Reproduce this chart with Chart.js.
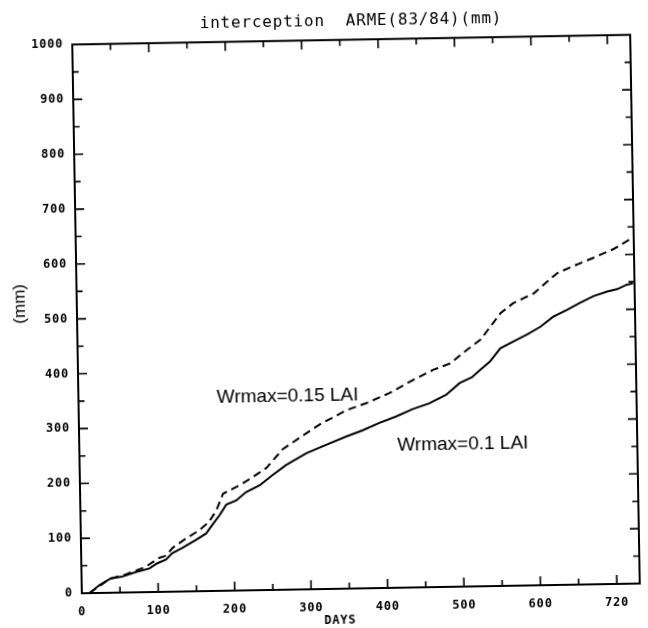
<!DOCTYPE html>
<html><head><meta charset="utf-8">
<script src="https://cdn.jsdelivr.net/npm/chart.js@4.4.1/dist/chart.umd.min.js"></script>
<style>
html,body{margin:0;padding:0;background:#fff;overflow:hidden;}
#wrap{position:absolute;left:0;top:0;width:648px;height:628px;transform:rotate(-1deg);transform-origin:324px 314px;}
canvas{display:block;}
</style></head><body>
<div id="wrap"><canvas id="c" width="648" height="628"></canvas></div>
<script>
const titleText = 'interception  ARME(83/84)(mm)';
const xAxisTitle = 'DAYS';
const yAxisTitle = '(mm)';
const seriesNames = ['Wrmax=0.1 LAI', 'Wrmax=0.15 LAI'];
const xTickValues = [0, 100, 200, 300, 400, 500, 600, 700];
const xTickLabels = ['0', '100', '200', '300', '400', '500', '600', '720'];
const yTickValues = [0, 100, 200, 300, 400, 500, 600, 700, 800, 900, 1000];
const yTickLabels = ['0', '100', '200', '300', '400', '500', '600', '700', '800', '900', '1000'];

// Wrmax = 0.1 LAI (solid)
const daysLow = [10, 23, 38, 53, 71, 89, 99, 111, 119, 132, 150, 164, 172, 182, 191, 204, 217, 235, 252, 270, 297, 327, 349, 371, 393, 415, 437, 459, 481, 499, 515, 526, 539, 553, 570, 588, 606, 623, 641, 658, 676, 694, 707, 720, 728];
const interceptionLow = [0, 14, 26, 29, 37, 43, 52, 59, 70, 79, 93, 105, 120, 138, 157, 164, 179, 191, 209, 227, 248, 265, 277, 288, 301, 312, 325, 335, 350, 371, 381, 394, 409, 433, 445, 457, 471, 489, 501, 513, 525, 533, 537, 545, 547];

// Wrmax = 0.15 LAI (dashed)
const daysHigh = [10, 36, 58, 84, 102, 111, 120, 137, 155, 168, 178, 187, 209, 226, 244, 266, 288, 315, 350, 376, 407, 438, 465, 487, 509, 527, 544, 554, 571, 598, 615, 629, 651, 677, 703, 728];
const interceptionHigh = [0, 25, 33, 46, 62, 66, 80, 96, 111, 126, 147, 177, 192, 206, 222, 256, 276, 300, 325, 337, 355, 378, 396, 407, 431, 449, 479, 497, 515, 532, 552, 568, 581, 595, 610, 630];

const toPoints = (xs, ys) => xs.map((v, i) => ({x: v, y: ys[i]}));

const tickFont = {family: '"DejaVu Sans Mono", monospace', size: 12, weight: 'bold'};

const spacingPlugin = {
  id: 'spacing',
  beforeLayout(chart) { chart.ctx.letterSpacing = '0.8px'; },
  beforeDraw(chart) { chart.ctx.letterSpacing = '0.8px'; }
};

const framePlugin = {
  id: 'frame',
  afterDatasetsDraw(chart) {
    const {ctx, chartArea: a, scales: {x, y}} = chart;
    ctx.save();
    ctx.strokeStyle = '#000';
    ctx.lineWidth = 2;
    ctx.strokeRect(a.left, a.top, a.right - a.left, a.bottom - a.top);
    ctx.lineWidth = 1.6;
    ctx.beginPath();
    x.ticks.forEach(t => {
      if (t.value % 50 !== 0 || t.value <= x.min || t.value >= x.max) return;
      const len = t.value % 100 === 0 ? 9 : 6;
      const p = x.getPixelForValue(t.value);
      ctx.moveTo(p, a.bottom); ctx.lineTo(p, a.bottom - len);
      ctx.moveTo(p, a.top); ctx.lineTo(p, a.top + len);
    });
    y.ticks.forEach(t => {
      if (t.value % 50 !== 0 || t.value <= y.min || t.value >= y.max) return;
      const len = t.value % 100 === 0 ? 9 : 6;
      const p = y.getPixelForValue(t.value);
      ctx.moveTo(a.left, p); ctx.lineTo(a.left + len, p);
      ctx.moveTo(a.right, p); ctx.lineTo(a.right - len, p);
    });
    ctx.stroke();

    // series annotations
    ctx.fillStyle = '#000';
    ctx.letterSpacing = '0px';
    ctx.font = '19px "Liberation Sans", Arial, sans-serif';
    ctx.textAlign = 'left';
    ctx.textBaseline = 'middle';
    ctx.fillText(seriesNames[1], x.getPixelForValue(181), y.getPixelForValue(353));
    ctx.fillText(seriesNames[0], x.getPixelForValue(416), y.getPixelForValue(260));

    // axis titles
    ctx.letterSpacing = '0.8px';
    ctx.font = 'bold 12px "DejaVu Sans Mono", monospace';
    ctx.textAlign = 'center';
    ctx.fillText(xAxisTitle, (a.left + a.right) / 2 - 21, a.bottom + 32);
    ctx.save();
    ctx.letterSpacing = '0px';
    ctx.translate(20, (a.top + a.bottom) / 2 - 16);
    ctx.rotate(-Math.PI / 2);
    ctx.font = '17px "Liberation Sans", Arial, sans-serif';
    ctx.fillText(yAxisTitle, 0, 0);
    ctx.restore();
    ctx.restore();
  }
};

new Chart(document.getElementById('c'), {
  type: 'line',
  data: {
    datasets: [
      {label: seriesNames[0], data: toPoints(daysLow, interceptionLow), borderColor: '#000', borderWidth: 2, pointRadius: 0, tension: 0, fill: false},
      {label: seriesNames[1], data: toPoints(daysHigh, interceptionHigh), borderColor: '#000', borderWidth: 2, borderDash: [8, 5], pointRadius: 0, tension: 0, fill: false}
    ]
  },
  options: {
    responsive: false,
    animation: false,
    layout: {padding: {left: 0, right: 13, top: 0, bottom: 0}},
    plugins: {
      legend: {display: false},
      tooltip: {enabled: false},
      title: {
        display: true,
        text: titleText,
        fullSize: false,
        color: '#000',
        font: {family: '"DejaVu Sans Mono", monospace', size: 16, weight: 'normal', lineHeight: 1.2},
        padding: {top: 12, bottom: 9}
      }
    },
    scales: {
      x: {
        type: 'linear', min: 0, max: 730,
        grid: {display: false, drawTicks: false},
        border: {display: false},
        afterBuildTicks: s => {
          const step = 50;
          const last = xTickValues[xTickValues.length - 1];
          const t = [];
          for (let v = 0; v <= last; v += step) t.push({value: v});
          s.ticks = t;
        },
        ticks: {
          autoSkip: false, maxRotation: 0, minRotation: 0, padding: 12,
          color: '#000', font: tickFont,
          callback: v => { const i = xTickValues.indexOf(v); return i >= 0 ? xTickLabels[i] : ''; }
        },
        afterFit: s => { s.height = 39; }
      },
      y: {
        type: 'linear', min: 0, max: 1000,
        grid: {display: false, drawTicks: false},
        border: {display: false},
        ticks: {
          stepSize: 50, autoSkip: false, padding: 9,
          color: '#000', font: tickFont,
          callback: v => { const i = yTickValues.indexOf(v); return i >= 0 ? yTickLabels[i] : ''; }
        },
        afterFit: s => { s.width = 77; }
      }
    }
  },
  plugins: [spacingPlugin, framePlugin]
});
</script>
</body></html>
